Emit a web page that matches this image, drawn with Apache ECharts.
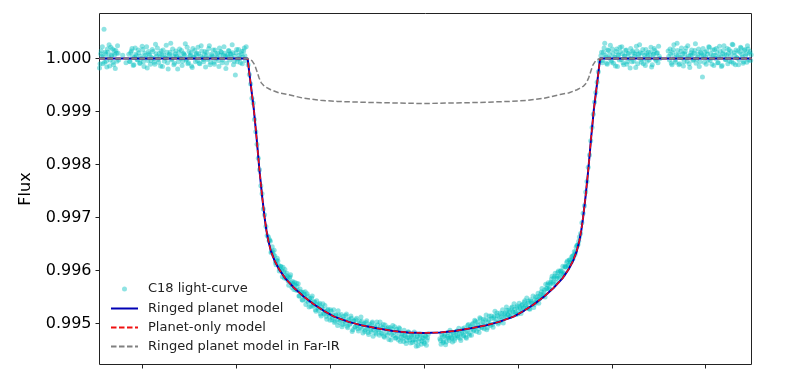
<!DOCTYPE html>
<html>
<head>
<meta charset="utf-8">
<script src="https://cdn.jsdelivr.net/npm/echarts@6/dist/echarts.min.js"></script>
<style>html,body{margin:0;padding:0;background:#fff;}#chart{width:800px;height:380px;}</style>
</head>
<body>
<div id="chart"></div>
<script>
// Time from mid-transit (tick units), flux values
const xTicks = [-3, -2, -1, 0, 1, 2, 3];
const yTicks = [0.995, 0.996, 0.997, 0.998, 0.999, 1.000];

const modelTime = [-3.452, -1.876, -1.85, -1.81, -1.78, -1.75, -1.72, -1.695, -1.675, -1.655, -1.63, -1.59, -1.54, -1.475, -1.38, -1.28, -1.17, -1.065, -0.955, -0.8, -0.65, -0.5, -0.33, -0.17, 0, 0.17, 0.33, 0.5, 0.65, 0.8, 0.955, 1.065, 1.17, 1.28, 1.38, 1.475, 1.54, 1.59, 1.63, 1.655, 1.675, 1.695, 1.72, 1.75, 1.78, 1.81, 1.85, 1.876, 3.487];
const ringedFlux = [1, 1, 0.99962, 0.99905, 0.9985, 0.9979, 0.99738, 0.997, 0.99675, 0.99656, 0.99638, 0.99619, 0.99602, 0.99585, 0.99567, 0.99551, 0.99536, 0.99524, 0.99513, 0.99503, 0.99496, 0.99491, 0.99486, 0.99483, 0.99482, 0.99483, 0.99486, 0.99491, 0.99496, 0.99503, 0.99513, 0.99524, 0.99536, 0.99551, 0.99567, 0.99585, 0.99602, 0.99619, 0.99638, 0.99656, 0.99675, 0.997, 0.99738, 0.9979, 0.9985, 0.99905, 0.99962, 1, 1];
const planetFlux = [1, 1, 0.99962, 0.99905, 0.9985, 0.9979, 0.99738, 0.997, 0.99675, 0.99656, 0.99638, 0.99619, 0.99602, 0.99585, 0.99567, 0.99551, 0.99536, 0.99524, 0.99513, 0.99503, 0.99496, 0.99491, 0.99486, 0.99483, 0.99482, 0.99483, 0.99486, 0.99491, 0.99496, 0.99503, 0.99513, 0.99524, 0.99536, 0.99551, 0.99567, 0.99585, 0.99602, 0.99619, 0.99638, 0.99656, 0.99675, 0.997, 0.99738, 0.9979, 0.9985, 0.99905, 0.99962, 1, 1];

const farIrTime = [-3.452, -1.87, -1.83, -1.8, -1.775, -1.755, -1.73, -1.7, -1.63, -1.54, -1.45, -1.28, -1.1, -0.92, -0.57, 0, 0.57, 0.92, 1.1, 1.28, 1.45, 1.54, 1.63, 1.7, 1.73, 1.755, 1.775, 1.8, 1.83, 1.87, 3.487];
const farIrFlux = [1, 1, 0.99996, 0.99988, 0.99975, 0.99964, 0.99954, 0.99948, 0.99941, 0.99935, 0.99932, 0.99925, 0.99921, 0.99919, 0.99917, 0.99915, 0.99917, 0.99919, 0.99921, 0.99925, 0.99932, 0.99935, 0.99941, 0.99948, 0.99954, 0.99964, 0.99975, 0.99988, 0.99996, 1, 1];

const lcPre = [
[-3.452,0.99982],[-3.440,1.00009],[-3.428,1.00004],[-3.416,0.99990],[-3.404,1.00055],[-3.392,1.00012],[-3.380,0.99995],[-3.368,1.00018],[-3.356,1.00003],[-3.344,0.99986],[-3.332,1.00021],[-3.320,1.00007],[-3.308,0.99993],[-3.296,1.00015],[-3.284,0.99981],[-3.272,1.00010],[-3.260,1.00024],[-3.248,0.99997],
[-3.446,0.99990],[-3.434,1.00014],[-3.422,1.00022],[-3.410,1.00003],[-3.398,0.99993],[-3.386,1.00009],[-3.374,0.99984],[-3.362,1.00012],[-3.350,1.00026],[-3.338,0.99997],[-3.326,1.00005],[-3.314,1.00018],[-3.302,0.99988],[-3.290,1.00007],[-3.278,1.00015],[-3.266,0.99995],[-3.254,1.00010],[-3.205,1.00006],[-3.170,0.99992],
[-3.140,1.00008],[-3.126,0.99994],[-3.113,1.00014],[-3.099,1.00003],[-3.086,0.99988],[-3.072,1.00020],[-3.059,1.00005],[-3.045,0.99997],[-3.032,1.00011],[-3.018,0.99991],[-3.005,1.00000],[-2.991,1.00017],[-2.978,0.99985],[-2.964,1.00006],[-2.951,1.00022],[-2.937,0.99996],[-2.924,1.00009],[-2.910,0.99989],[-2.897,1.00002],[-2.883,1.00013],[-2.870,0.99993],[-2.856,1.00027],[-2.843,1.00004],[-2.829,0.99998],[-2.816,1.00010],[-2.802,0.99986],[-2.789,1.00007],[-2.775,1.00016],[-2.762,0.99995],[-2.748,1.00001],[-2.735,1.00012],[-2.721,0.99980],[-2.708,1.00008],[-2.694,1.00029],[-2.681,0.99999],[-2.667,1.00005],[-2.654,0.99991],[-2.640,1.00014],[-2.627,1.00003],[-2.613,0.99994],[-2.600,1.00018],[-2.586,1.00000],[-2.573,0.99987],[-2.559,1.00010],[-2.546,1.00006],[-2.532,0.99997],[-2.519,1.00021],[-2.505,0.99992],[-2.492,1.00004],[-2.478,1.00011],[-2.465,0.99983],[-2.451,1.00002],[-2.438,1.00015],[-2.424,1.00007],[-2.411,0.99996],[-2.397,1.00009],[-2.384,0.99990],[-2.370,1.00024],[-2.357,1.00001],[-2.343,0.99994],[-2.330,1.00013],[-2.316,1.00005],[-2.303,0.99998],[-2.289,1.00019],[-2.276,0.99988],[-2.262,1.00008],[-2.249,1.00003],[-2.235,0.99993],[-2.222,1.00016],[-2.208,1.00000],[-2.195,1.00010],[-2.181,0.99985],[-2.168,1.00006],[-2.154,1.00012],[-2.141,0.99997],[-2.127,1.00022],[-2.114,1.00004],[-2.100,0.99991],[-2.087,1.00007],[-2.073,1.00014],[-2.060,1.00009],[-2.046,1.00002],[-2.033,1.00011],[-2.019,0.99995],[-2.006,0.99969],[-1.992,1.00017],[-1.979,0.99999],[-1.965,1.00006],[-1.952,0.99992],[-1.938,1.00013],[-1.925,1.00003],[-1.911,1.00020],[-1.898,0.99996],
[-3.133,0.99995],[-3.120,1.00011],[-3.106,1.00019],[-3.093,0.99987],[-3.079,1.00002],[-3.066,1.00008],[-3.052,0.99998],[-3.039,1.00016],[-3.025,0.99991],[-3.012,1.00004],[-2.998,1.00023],[-2.985,0.99994],[-2.971,1.00010],[-2.958,1.00001],[-2.944,0.99982],[-2.931,1.00013],[-2.917,1.00006],[-2.904,0.99996],[-2.890,1.00017],[-2.877,1.00000],[-2.863,0.99989],[-2.850,1.00009],[-2.836,1.00020],[-2.823,0.99993],[-2.809,1.00003],[-2.796,1.00014],[-2.782,0.99985],[-2.769,1.00007],[-2.755,1.00001],[-2.742,1.00025],[-2.728,0.99992],[-2.715,1.00005],[-2.701,1.00012],[-2.688,0.99997],[-2.674,1.00018],[-2.661,0.99988],[-2.647,1.00009],[-2.634,1.00004],[-2.620,0.99980],[-2.607,1.00011],[-2.593,1.00002],[-2.580,1.00015],[-2.566,0.99995],[-2.553,1.00008],[-2.539,1.00028],[-2.526,0.99999],[-2.512,0.99990],[-2.499,1.00013],[-2.485,1.00006],[-2.472,0.99986],[-2.458,1.00019],[-2.445,1.00003],[-2.431,0.99994],[-2.418,1.00010],[-2.404,1.00021],[-2.391,0.99991],[-2.377,1.00004],[-2.364,1.00014],[-2.350,0.99998],[-2.337,1.00007],[-2.323,0.99984],[-2.310,1.00012],[-2.296,1.00001],[-2.283,1.00024],[-2.269,0.99993],[-2.256,1.00005],[-2.242,1.00016],[-2.229,0.99989],[-2.215,1.00009],[-2.202,1.00002],[-2.188,0.99996],[-2.175,1.00020],[-2.161,1.00013],[-2.148,0.99992],[-2.134,1.00006],[-2.121,1.00010],[-2.107,0.99981],[-2.094,1.00003],[-2.080,1.00015],[-2.067,0.99997],[-2.053,1.00008],[-2.040,1.00026],[-2.026,0.99988],[-2.013,1.00004],[-1.999,1.00011],[-1.986,0.99994],[-1.972,1.00017],[-1.959,1.00000],[-1.945,1.00009],[-1.932,0.99990],[-1.918,1.00014],[-1.905,1.00005],[-1.891,1.00022]
];

const lcTransit = [
[-1.870,0.99988],[-1.857,0.99970],[-1.843,0.99952],[-1.830,0.99925],[-1.816,0.99916],[-1.803,0.99885],[-1.789,0.99862],[-1.776,0.99838],[-1.762,0.99812],[-1.749,0.99790],[-1.735,0.99760],[-1.722,0.99745],[-1.708,0.99716],[-1.695,0.99705],[-1.681,0.99683],[-1.668,0.99666],
[-1.654,0.99663],[-1.641,0.99658],[-1.627,0.99634],[-1.614,0.99645],[-1.600,0.99629],[-1.587,0.99628],[-1.573,0.99611],[-1.560,0.99623],[-1.546,0.99610],[-1.533,0.99603],[-1.519,0.99607],[-1.506,0.99588],[-1.492,0.99598],[-1.479,0.99602],[-1.465,0.99585],[-1.452,0.99588],[-1.438,0.99572],[-1.425,0.99588],[-1.411,0.99577],[-1.398,0.99579],[-1.384,0.99564],[-1.371,0.99572],[-1.357,0.99576],[-1.344,0.99562],[-1.330,0.99552],[-1.317,0.99565],[-1.303,0.99558],[-1.290,0.99544],[-1.276,0.99555],[-1.263,0.99560],[-1.249,0.99544],[-1.236,0.99552],[-1.222,0.99531],[-1.209,0.99543],[-1.195,0.99548],[-1.182,0.99533],[-1.168,0.99540],[-1.155,0.99526],[-1.141,0.99543],[-1.128,0.99529],[-1.114,0.99536],[-1.101,0.99518],[-1.087,0.99530],[-1.074,0.99537],[-1.060,0.99518],[-1.047,0.99523],[-1.033,0.99508],[-1.020,0.99527],[-1.006,0.99514],[-0.993,0.99526],[-0.979,0.99507],[-0.966,0.99516],[-0.952,0.99502],[-0.939,0.99517],[-0.925,0.99508],[-0.912,0.99524],[-0.898,0.99502],[-0.885,0.99509],[-0.871,0.99494],[-0.858,0.99513],[-0.844,0.99504],[-0.831,0.99515],[-0.817,0.99495],[-0.804,0.99506],[-0.790,0.99498],[-0.777,0.99514],[-0.763,0.99485],[-0.750,0.99505],[-0.736,0.99493],[-0.723,0.99507],[-0.709,0.99496],[-0.696,0.99486],[-0.682,0.99504],[-0.669,0.99512],[-0.655,0.99490],[-0.642,0.99498],[-0.628,0.99485],[-0.615,0.99502],[-0.601,0.99491],[-0.588,0.99479],[-0.574,0.99498],[-0.561,0.99485],[-0.547,0.99503],[-0.534,0.99488],[-0.520,0.99492],[-0.507,0.99480],[-0.493,0.99497],[-0.480,0.99488],[-0.466,0.99503],[-0.453,0.99481],[-0.439,0.99492],[-0.426,0.99476],[-0.412,0.99497],[-0.399,0.99483],[-0.385,0.99490],[-0.372,0.99470],[-0.358,0.99492],[-0.345,0.99479],[-0.331,0.99496],[-0.318,0.99483],[-0.304,0.99472],[-0.291,0.99489],[-0.277,0.99476],[-0.264,0.99492],[-0.250,0.99466],[-0.237,0.99480],[-0.223,0.99472],[-0.210,0.99487],[-0.196,0.99476],[-0.183,0.99468],[-0.169,0.99484],[-0.156,0.99473],[-0.142,0.99463],[-0.129,0.99478],[-0.115,0.99469],[-0.102,0.99484],[-0.088,0.99465],[-0.075,0.99475],[-0.061,0.99458],[-0.048,0.99471],[-0.034,0.99479],[-0.021,0.99467],[-0.007,0.99473],[0.006,0.99462],[0.020,0.99476],[0.033,0.99468],[0.047,0.99480],
[0.170,0.99471],[0.183,0.99461],[0.197,0.99475],[0.210,0.99467],[0.224,0.99480],[0.237,0.99465],[0.251,0.99476],[0.264,0.99472],[0.278,0.99487],[0.291,0.99474],[0.305,0.99465],[0.318,0.99480],[0.332,0.99472],[0.345,0.99485],[0.359,0.99477],[0.372,0.99491],[0.386,0.99472],[0.399,0.99481],[0.413,0.99490],[0.426,0.99477],[0.440,0.99485],[0.453,0.99472],[0.467,0.99496],[0.480,0.99481],[0.494,0.99494],[0.507,0.99478],[0.521,0.99500],[0.534,0.99487],[0.548,0.99504],[0.561,0.99485],[0.575,0.99497],[0.588,0.99483],[0.602,0.99509],[0.615,0.99493],[0.629,0.99503],[0.642,0.99490],[0.656,0.99507],[0.669,0.99488],[0.683,0.99503],[0.696,0.99514],[0.710,0.99496],[0.723,0.99509],[0.737,0.99493],[0.750,0.99514],[0.764,0.99503],[0.777,0.99520],[0.791,0.99499],[0.804,0.99512],[0.818,0.99505],[0.831,0.99519],[0.845,0.99501],[0.858,0.99518],[0.872,0.99512],[0.885,0.99525],[0.899,0.99516],[0.912,0.99522],[0.926,0.99514],[0.939,0.99531],[0.953,0.99521],[0.966,0.99527],[0.980,0.99517],[0.993,0.99533],[1.007,0.99524],[1.020,0.99531],[1.034,0.99519],[1.047,0.99536],[1.061,0.99529],[1.074,0.99543],[1.088,0.99535],[1.101,0.99529],[1.115,0.99542],[1.128,0.99527],[1.142,0.99542],[1.155,0.99537],[1.169,0.99530],[1.182,0.99545],[1.196,0.99540],[1.209,0.99551],[1.223,0.99538],[1.236,0.99551],[1.250,0.99560],[1.263,0.99551],[1.277,0.99559],[1.290,0.99550],[1.304,0.99566],[1.317,0.99573],[1.331,0.99565],[1.344,0.99575],[1.358,0.99584],[1.371,0.99575],[1.385,0.99586],[1.398,0.99595],[1.412,0.99585],[1.425,0.99596],[1.439,0.99586],[1.452,0.99598],[1.466,0.99594],[1.479,0.99608],[1.493,0.99595],[1.506,0.99607],[1.520,0.99615],[1.533,0.99609],[1.547,0.99620],[1.560,0.99616],[1.574,0.99626],[1.587,0.99622],[1.601,0.99636],[1.614,0.99635],[1.628,0.99647],[1.641,0.99649],[1.655,0.99663],
[1.668,0.99670],[1.682,0.99690],[1.695,0.99708],[1.709,0.99722],[1.722,0.99748],[1.736,0.99768],[1.749,0.99795],[1.763,0.99818],[1.776,0.99845],[1.790,0.99870],[1.803,0.99895],[1.817,0.99918],[1.830,0.99936],[1.844,0.99955],[1.857,0.99975],[1.871,0.99995],
[-1.647,0.99656],[-1.634,0.99655],[-1.620,0.99635],[-1.607,0.99636],[-1.593,0.99638],[-1.580,0.99615],[-1.566,0.99619],[-1.553,0.99618],[-1.539,0.99599],[-1.526,0.99608],[-1.512,0.99599],[-1.499,0.99606],[-1.485,0.99586],[-1.472,0.99592],[-1.458,0.99595],[-1.445,0.99580],[-1.431,0.99586],[-1.418,0.99592],[-1.404,0.99568],[-1.391,0.99575],[-1.377,0.99578],[-1.364,0.99563],[-1.350,0.99570],[-1.337,0.99575],[-1.323,0.99552],[-1.310,0.99560],
[-1.296,0.99545],[-1.283,0.99559],[-1.269,0.99551],[-1.256,0.99536],[-1.242,0.99556],[-1.229,0.99540],[-1.215,0.99547],[-1.202,0.99532],[-1.188,0.99552],[-1.175,0.99535],[-1.161,0.99541],[-1.148,0.99523],[-1.134,0.99535],[-1.121,0.99525],[-1.107,0.99538],[-1.094,0.99514],[-1.080,0.99528],[-1.067,0.99520],[-1.053,0.99534],[-1.040,0.99513],[-1.026,0.99525],[-1.013,0.99518],[-0.999,0.99506],[-0.986,0.99523],[-0.972,0.99511],[-0.959,0.99526],[-0.945,0.99504],[-0.932,0.99515],[-0.918,0.99496],[-0.905,0.99516],[-0.891,0.99506],[-0.878,0.99517],[-0.864,0.99498],[-0.851,0.99508],[-0.837,0.99500],[-0.824,0.99518],[-0.810,0.99492],[-0.797,0.99508],[-0.783,0.99500],[-0.770,0.99510],[-0.756,0.99488],[-0.743,0.99504],[-0.729,0.99494],[-0.716,0.99510],[-0.702,0.99490],[-0.689,0.99500],[-0.675,0.99493],[-0.662,0.99504],[-0.648,0.99482],[-0.635,0.99500],[-0.621,0.99488],[-0.608,0.99505],[-0.594,0.99483],[-0.581,0.99495],[-0.567,0.99488],[-0.554,0.99501],[-0.540,0.99476],[-0.527,0.99495],[-0.513,0.99483],[-0.500,0.99503],[-0.486,0.99487],[-0.473,0.99478],[-0.459,0.99495],[-0.446,0.99482],[-0.432,0.99498],[-0.419,0.99474],[-0.405,0.99490],[-0.392,0.99478],[-0.378,0.99493],[-0.365,0.99483],[-0.351,0.99469],[-0.338,0.99489],[-0.324,0.99477],[-0.311,0.99494],[-0.297,0.99473],[-0.284,0.99484],[-0.270,0.99469],[-0.257,0.99490],
[-0.243,0.99474],[-0.230,0.99481],[-0.216,0.99466],[-0.203,0.99478],[-0.189,0.99462],[-0.176,0.99474],[-0.162,0.99484],[-0.149,0.99469],[-0.135,0.99476],[-0.122,0.99464],[-0.108,0.99478],[-0.095,0.99470],[-0.081,0.99457],[-0.068,0.99476],[-0.054,0.99466],[-0.041,0.99480],[-0.027,0.99461],[-0.014,0.99472],[0.000,0.99465],[0.013,0.99477],[0.027,0.99459],[0.040,0.99473],
[0.177,0.99468],[0.190,0.99479],[0.204,0.99464],[0.217,0.99476],[0.231,0.99460],[0.244,0.99473],[0.258,0.99483],[0.271,0.99468],[0.285,0.99478],[0.298,0.99472],[0.312,0.99483],[0.325,0.99468],[0.339,0.99477],[0.352,0.99486],[0.366,0.99474],[0.379,0.99481],[0.393,0.99468],[0.406,0.99486],[0.420,0.99478],[0.433,0.99492],[0.447,0.99474],[0.460,0.99485],[0.474,0.99498],[0.487,0.99478],[0.501,0.99489],
[0.514,0.99498],[0.528,0.99486],[0.541,0.99506],[0.555,0.99494],[0.568,0.99503],[0.582,0.99490],[0.595,0.99511],[0.609,0.99500],[0.622,0.99492],[0.636,0.99508],[0.649,0.99498],[0.663,0.99516],[0.676,0.99492],[0.690,0.99507],[0.703,0.99499],[0.717,0.99514],[0.730,0.99498],[0.744,0.99511],[0.757,0.99523],[0.771,0.99508],[0.784,0.99515],[0.798,0.99502],[0.811,0.99520],[0.825,0.99512],[0.838,0.99526],[0.852,0.99511],[0.865,0.99520],[0.879,0.99531],[0.892,0.99517],[0.906,0.99525],[0.919,0.99513],[0.933,0.99529],[0.946,0.99522],[0.960,0.99537],[0.973,0.99521],[0.987,0.99530],[1.000,0.99518],[1.014,0.99538],[1.027,0.99528],[1.041,0.99534],[1.054,0.99526],[1.068,0.99540],[1.081,0.99532],[1.095,0.99548],[1.108,0.99538],[1.122,0.99528],[1.135,0.99545],[1.149,0.99538],[1.162,0.99552],[1.176,0.99536],[1.189,0.99550],[1.203,0.99544],[1.216,0.99557],[1.230,0.99546],[1.243,0.99555],[1.257,0.99566],[1.270,0.99554],[1.284,0.99563],[1.297,0.99574],
[1.311,0.99566],[1.324,0.99577],[1.338,0.99567],[1.351,0.99578],[1.365,0.99589],[1.378,0.99578],[1.392,0.99589],[1.405,0.99578],[1.419,0.99589],[1.432,0.99599],[1.446,0.99589],[1.459,0.99600],[1.473,0.99598],[1.486,0.99592],[1.500,0.99607],[1.513,0.99606],[1.527,0.99618],[1.540,0.99610],[1.554,0.99620],[1.567,0.99616],[1.581,0.99627],[1.594,0.99629],[1.608,0.99630],[1.621,0.99644],[1.635,0.99647],[1.648,0.99655]
];

const lcPost = [
[1.884,1.00005],[1.898,0.99992],[1.911,1.00012],[1.925,1.00029],[1.938,1.00003],[1.952,0.99989],[1.965,1.00015],[1.979,1.00007],[1.992,0.99996],[2.006,1.00018],[2.019,0.99991],[2.033,1.00002],[2.046,1.00013],[2.060,0.99985],[2.073,1.00006],[2.087,1.00021],[2.100,0.99998],[2.114,1.00009],[2.127,0.99988],[2.141,1.00004],[2.154,1.00016],[2.168,0.99994],[2.181,1.00010],[2.195,0.99982],[2.208,1.00001],[2.222,1.00014],[2.235,0.99995],[2.249,1.00008],[2.262,1.00023],[2.276,0.99990],[2.289,1.00003],[2.303,1.00011],[2.316,0.99993],[2.330,1.00017],[2.343,1.00000],[2.357,0.99987],[2.370,1.00009],[2.384,1.00005],[2.397,0.99997],[2.411,1.00012],[2.424,0.99984],[2.438,1.00007],[2.451,1.00019],[2.465,0.99999],[2.478,1.00010],[2.492,0.99992],[2.505,1.00004],
[2.600,1.00014],[2.614,0.99997],[2.627,1.00008],[2.641,0.99988],[2.654,1.00017],[2.668,1.00002],[2.681,0.99993],[2.695,1.00029],[2.708,1.00006],[2.722,0.99990],[2.735,1.00013],[2.749,1.00001],[2.762,0.99986],[2.776,1.00009],[2.789,1.00020],[2.803,0.99995],[2.816,1.00004],[2.830,0.99983],[2.843,1.00011],[2.857,1.00007],[2.870,0.99998],[2.884,1.00015],[2.897,0.99991],[2.911,1.00003],[2.924,1.00018],[2.938,0.99994],[2.951,1.00010],[2.965,0.99965],[2.978,1.00005],[2.992,1.00012],[3.005,0.99989],[3.019,1.00008],[3.032,1.00022],[3.046,0.99996],[3.059,1.00001],[3.073,1.00016],[3.086,0.99987],[3.100,1.00006],[3.113,1.00019],[3.127,0.99992],[3.140,1.00003],[3.154,1.00013],[3.167,0.99985],[3.181,1.00009],[3.194,1.00024],[3.208,0.99998],[3.221,1.00007],[3.235,0.99990],[3.248,1.00017],[3.262,1.00004],[3.275,0.99994],[3.289,1.00026],[3.302,1.00011],[3.316,0.99988],[3.329,1.00002],[3.343,1.00014],[3.356,0.99997],[3.370,1.00021],[3.383,1.00008],[3.397,0.99991],[3.410,1.00015],[3.424,1.00005],[3.437,0.99993],[3.451,1.00018],[3.464,1.00010],[3.478,0.99996],
[1.891,1.00012],[1.904,0.99996],[1.918,1.00020],[1.931,1.00006],[1.945,0.99991],[1.958,1.00016],[1.972,1.00001],[1.985,1.00025],[1.999,0.99993],[2.012,1.00010],[2.026,1.00003],[2.039,0.99986],[2.053,1.00018],[2.066,1.00007],[2.080,0.99997],[2.093,1.00013],[2.107,1.00022],[2.120,0.99992],[2.134,1.00005],[2.147,1.00015],[2.161,0.99989],[2.174,1.00009],[2.188,1.00000],[2.201,1.00019],[2.215,0.99994],[2.228,1.00011],[2.242,1.00004],[2.255,0.99983],[2.269,1.00014],[2.282,1.00008],[2.296,1.00026],[2.309,0.99998],[2.323,1.00010],[2.336,0.99990],[2.350,1.00006],[2.363,1.00017],[2.377,0.99995],[2.390,1.00012],[2.404,1.00002],[2.417,1.00021],[2.431,0.99988],[2.444,1.00008],[2.458,1.00015],[2.471,0.99996],[2.485,1.00011],[2.498,1.00023],[2.512,1.00000],
[2.607,1.00004],[2.620,1.00018],[2.634,0.99991],[2.647,1.00011],[2.661,1.00026],[2.674,0.99997],[2.688,1.00007],[2.701,1.00015],[2.715,0.99988],[2.728,1.00002],[2.742,1.00020],[2.755,1.00009],[2.769,0.99994],[2.782,1.00013],[2.796,1.00001],[2.809,1.00024],[2.823,0.99990],[2.836,1.00006],[2.850,1.00016],[2.863,0.99996],[2.877,1.00010],[2.890,1.00028],[2.904,0.99999],[2.917,1.00008],[2.931,0.99985],[2.944,1.00012],[2.958,1.00005],[2.971,1.00019],[2.985,0.99993],[2.998,1.00003],[3.012,1.00014],[3.025,0.99997],[3.039,1.00021],[3.052,1.00009],[3.066,0.99989],[3.079,1.00006],[3.093,1.00017],[3.106,1.00000],[3.120,1.00011],[3.133,0.99992],[3.147,1.00023],[3.160,1.00004],[3.174,0.99987],[3.187,1.00015],[3.201,1.00007],[3.214,0.99998],[3.228,1.00019],[3.241,1.00010],[3.255,0.99995],[3.268,1.00013],[3.282,1.00027],[3.295,0.99991],[3.309,1.00006],[3.322,1.00016],[3.336,1.00001],[3.349,0.99988],[3.363,1.00012],[3.376,1.00020],[3.390,1.00003],[3.403,0.99994],[3.417,1.00017],[3.430,1.00009],[3.444,1.00024],[3.457,0.99997],[3.471,1.00013],[3.484,1.00007]
];

const FONT = 'DejaVu Sans';
const chart = echarts.init(document.getElementById('chart'), null, {renderer: 'canvas'});
const pairs = (xs, ys) => xs.map((x, i) => [x, ys[i]]);
const noSymbol = {opacity: 0};

chart.setOption({
  animation: false,
  backgroundColor: '#fff',
  grid: {left: 99.5, right: 48.5, top: 13.5, bottom: 15.5, show: true, borderColor: '#222', borderWidth: 1, containLabel: false},
  xAxis: {
    type: 'value', min: -3.452, max: 3.487,
    axisLine: {show: false, onZero: false},
    splitLine: {show: false},
    axisTick: {show: true, length: 4, customValues: xTicks, lineStyle: {color: '#222', width: 1}},
    axisLabel: {show: false}
  },
  yAxis: {
    type: 'value', min: 0.994226, max: 1.000849,
    name: 'Flux', nameLocation: 'middle', nameRotate: 90, nameGap: 66,
    nameTextStyle: {fontFamily: FONT, fontSize: 16, color: '#000'},
    axisLine: {show: false, onZero: false},
    splitLine: {show: false},
    axisTick: {show: true, length: 4, customValues: yTicks, lineStyle: {color: '#222', width: 1}},
    axisLabel: {show: true, customValues: yTicks, margin: 8, fontFamily: FONT, fontSize: 16, color: '#000',
      formatter: v => Number(v).toFixed(3)}
  },
  legend: {
    data: [
      {name: 'C18 light-curve', icon: 'path://M0,0L0.01,0M27,14L26.99,14M16,7A2.5,2.5,0,1,1,11,7A2.5,2.5,0,1,1,16,7Z'},
      {name: 'Ringed planet model', itemStyle: noSymbol},
      {name: 'Planet-only model', itemStyle: noSymbol},
      {name: 'Ringed planet model in Far-IR', itemStyle: noSymbol}
    ],
    orient: 'vertical', left: 110, top: 282, padding: 0, itemGap: 6, itemWidth: 27, itemHeight: 14, selectedMode: false,
    textStyle: {fontFamily: FONT, fontSize: 13, color: '#222', padding: [0, 0, 0, 5]}
  },
  series: [
    {
      name: 'C18 light-curve', type: 'scatter', symbol: 'circle', symbolSize: 5,
      data: lcPre.concat(lcTransit, lcPost),
      itemStyle: {color: 'rgba(0,191,191,0.55)'}, silent: true, z: 2
    },
    {
      name: 'Ringed planet model', type: 'line', symbol: 'none', data: pairs(modelTime, ringedFlux),
      lineStyle: {color: '#0000b4', width: 2}, itemStyle: {color: 'rgba(0,0,0,0)'}, silent: true, z: 3
    },
    {
      name: 'Planet-only model', type: 'line', symbol: 'none', data: pairs(modelTime, planetFlux),
      lineStyle: {color: '#f01010', width: 1.5, type: [5.5, 2.5]}, itemStyle: {color: 'rgba(0,0,0,0)'}, silent: true, z: 4
    },
    {
      name: 'Ringed planet model in Far-IR', type: 'line', symbol: 'none', data: pairs(farIrTime, farIrFlux),
      lineStyle: {color: '#808080', width: 1.5, type: [5.5, 2.5]}, itemStyle: {color: 'rgba(0,0,0,0)'}, silent: true, z: 4
    }
  ]
});
</script>
</body>
</html>
